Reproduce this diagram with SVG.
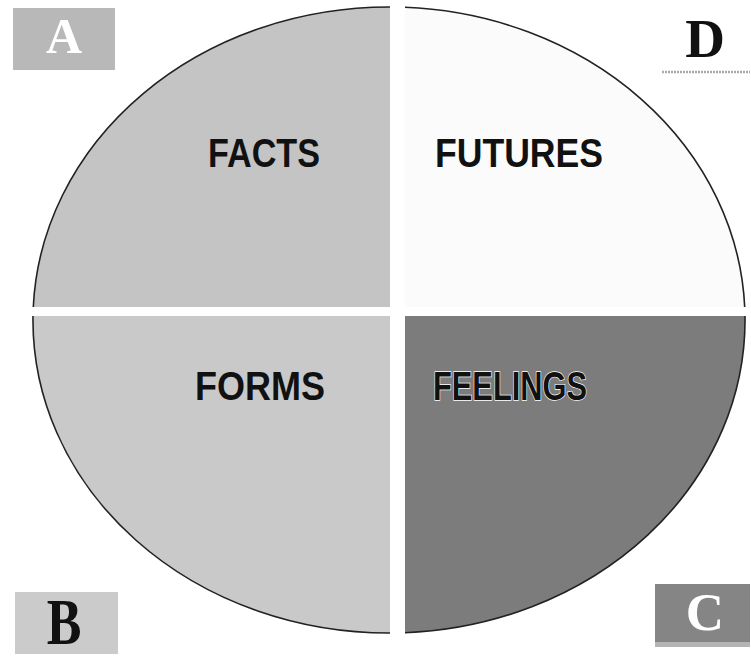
<svg xmlns="http://www.w3.org/2000/svg" width="751" height="660" viewBox="0 0 751 660">
<style>
.arc{fill:none;stroke:#222;stroke-width:1.6}
.word{font-family:"Liberation Sans",Arial,sans-serif;font-weight:bold;font-size:41px;fill:#111}
.corner{font-family:"Liberation Serif","Times New Roman",serif;font-weight:bold;text-anchor:middle}
</style>
<rect width="751" height="660" fill="#fff"/>
<g id="facts">
<path d="M390,307 L390,7 A356,313 0 0,0 33.3,307 Z" fill="#c4c4c4"/>
<path class="arc" d="M390,7 A356,313 0 0,0 33.3,307"/>
<text class="word" x="208" y="167" textLength="112" lengthAdjust="spacingAndGlyphs">FACTS</text>
</g>
<g id="futures">
<path d="M405,307 L405,7.3 A356,313 0 0,1 744.7,307 Z" fill="#fbfbfb"/>
<path class="arc" d="M405,7.3 A356,313 0 0,1 744.7,307" stroke-width="1.2"/>
<text class="word" x="435" y="167" textLength="168" lengthAdjust="spacingAndGlyphs">FUTURES</text>
</g>
<g id="forms">
<path d="M390,316 L33,316 A356,313 0 0,0 390,633 Z" fill="#c9c9c9"/>
<path class="arc" d="M33,316 A356,313 0 0,0 390,633"/>
<text class="word" x="195" y="400" textLength="130" lengthAdjust="spacingAndGlyphs">FORMS</text>
</g>
<g id="feelings">
<path d="M405,316 L745,316 A356,313 0 0,1 405,632.7 Z" fill="#7c7c7c"/>
<path class="arc" d="M745,316 A356,313 0 0,1 405,632.7"/>
<text class="word" x="433" y="400" textLength="154" lengthAdjust="spacingAndGlyphs" stroke="#fff" stroke-width="1.4" paint-order="stroke">FEELINGS</text>
</g>
<g id="label-a">
<rect x="13" y="8" width="102" height="62" fill="#b8b8b8"/>
<text class="corner" x="64" y="53" font-size="50" fill="#fff">A</text>
</g>
<g id="label-d">
<text class="corner" x="705" y="57" font-size="55" fill="#111">D</text>
<line x1="662" y1="72" x2="750" y2="72" stroke="#aaa" stroke-width="2.5" stroke-dasharray="2 1"/>
</g>
<g id="label-b">
<rect x="15" y="592" width="103" height="62" fill="#cbcbcb"/>
<text class="corner" transform="translate(64,644) scale(1,1.25)" font-size="52" fill="#111">B</text>
</g>
<g id="label-c">
<rect x="655" y="642" width="95" height="5" fill="#b4b4b4"/>
<rect x="655" y="584" width="95" height="58" fill="#858585"/>
<text class="corner" x="705" y="630" font-size="53" fill="#fff">C</text>
</g>
<g id="connectors"></g>
</svg>
